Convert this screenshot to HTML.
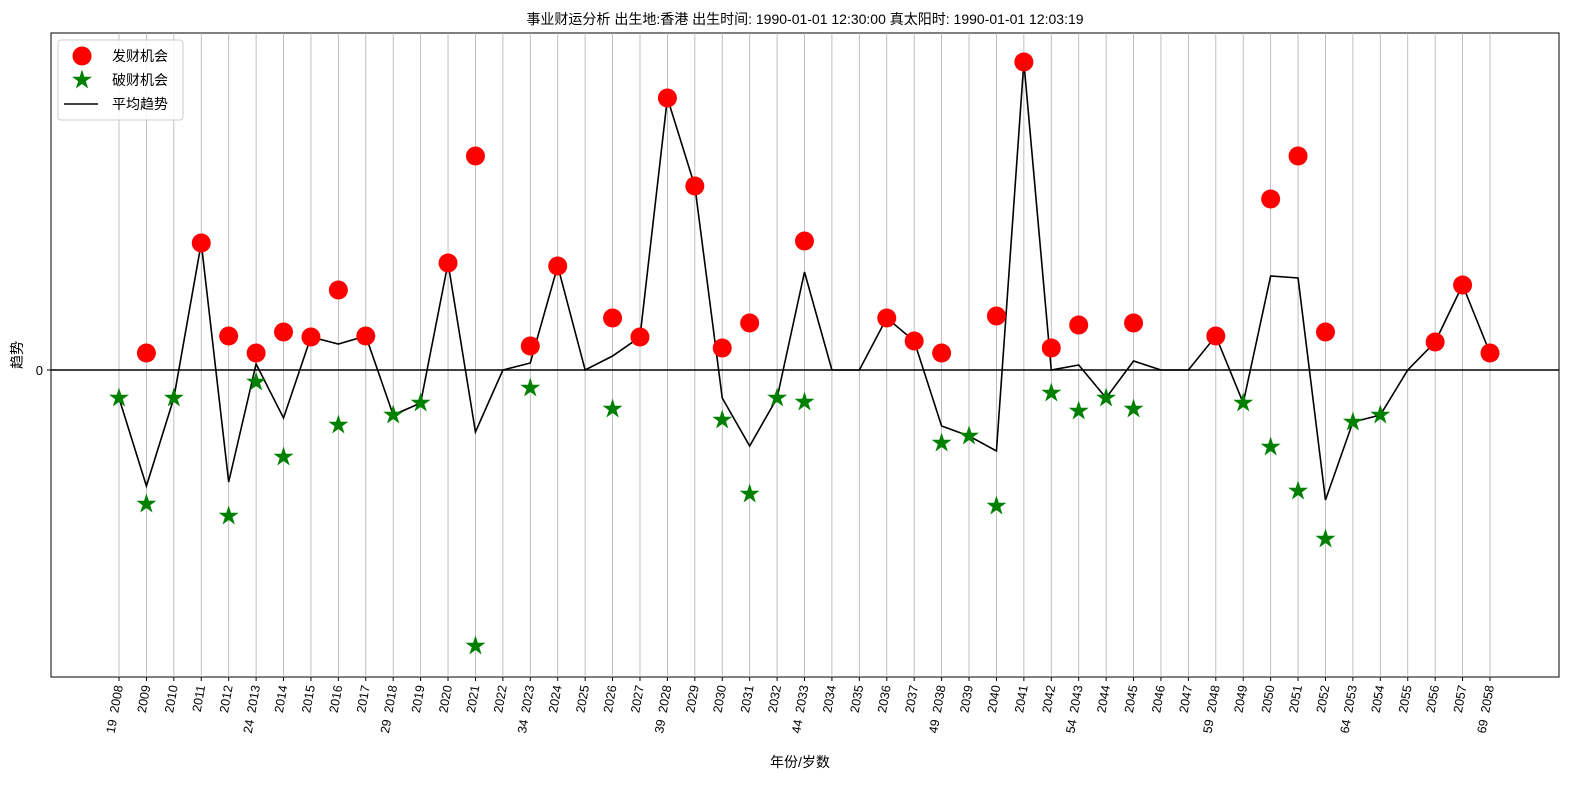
<!DOCTYPE html>
<html><head><meta charset="utf-8"><style>html,body{margin:0;padding:0;background:#fff;overflow:hidden;width:1589px;height:790px}svg{display:block}text{font-family:"Liberation Sans","Noto Sans CJK SC",sans-serif}</style></head>
<body>
<svg id="s" width="1589" height="790" xmlns="http://www.w3.org/2000/svg"></svg>
<script>
const s=document.getElementById('s');let h='';
const X=y=>119+(y-2008)*27.42;
h+='<rect x="51" y="33" width="1508" height="644" fill="#fff" stroke="#000" stroke-width="1"/>';
for(let y=2008;y<=2058;y++){const x=X(y);h+=`<line x1="${x}" y1="33" x2="${x}" y2="677" stroke="#b0b0b0" stroke-width="0.8"/><line x1="${x}" y1="677" x2="${x}" y2="681" stroke="#000"/>`;
let a=(y-2008)%5==0?(19+(y-2008))+' \u00a0'+y:''+y;
h+=`<text transform="translate(${x+4},686) rotate(-80)" text-anchor="end" font-size="12.5">${a}</text>`;}
h+='<line x1="51" y1="370" x2="1559" y2="370" stroke="#000" stroke-width="1.5"/><line x1="47" y1="370" x2="51" y2="370" stroke="#000"/><text x="43" y="375" text-anchor="end" font-size="13">0</text>';
const L=[398,486,398,243,482,364,418,337,344,336,415,403,263,432,370,363,266,370,356,337,98,186,398,446,398,272,370,370,318,341,426,436,451,62,370,365,398,361,370,370,336,403,276,278,500,422,415,370,342,285,353];
h+='<polyline fill="none" stroke="#000" stroke-width="1.6" points="'+L.map((v,i)=>X(2008+i)+','+v).join(' ')+'"/>';
const R=[[2009,353],[2011,243],[2012,336],[2013,353],[2014,332],[2015,337],[2016,290],[2017,336],[2020,263],[2021,156],[2023,346],[2024,266],[2026,318],[2027,337],[2028,98],[2029,186],[2030,348],[2031,323],[2033,241],[2036,318],[2037,341],[2038,353],[2040,316],[2041,62],[2042,348],[2043,325],[2045,323],[2048,336],[2050,199],[2051,156],[2052,332],[2056,342],[2057,285],[2058,353]];
R.forEach(([y,v])=>h+=`<circle cx="${X(y)}" cy="${v}" r="9.5" fill="#ff0000"/>`);
function star(cx,cy,r){let p=[];for(let i=0;i<10;i++){const rr=i%2?r*0.38:r,a=-Math.PI/2+i*Math.PI/5;p.push((cx+rr*Math.cos(a)).toFixed(1)+','+(cy+rr*Math.sin(a)).toFixed(1));}return `<polygon points="${p.join(' ')}" fill="#008000"/>`;}
const G=[[2008,398],[2009,504],[2010,398],[2012,516],[2013,382],[2014,457],[2016,425],[2018,415],[2019,403],[2021,646],[2023,388],[2026,409],[2030,420],[2031,494],[2032,398],[2033,402],[2038,443],[2039,436],[2040,506],[2042,393],[2043,411],[2044,398],[2045,409],[2049,403],[2050,447],[2051,491],[2052,539],[2053,422],[2054,415]];
G.forEach(([y,v])=>h+=star(X(y),v,10.5));
h+='<rect x="58" y="40" width="125" height="80" rx="3" fill="#fff" fill-opacity="0.85" stroke="#ccc"/>';
h+='<circle cx="82" cy="56" r="9.5" fill="#ff0000"/><text x="112" y="61" font-size="14">发财机会</text>';
h+=star(82,80,10.5)+'<text x="112" y="85" font-size="14">破财机会</text>';
h+='<line x1="64" y1="104" x2="98" y2="104" stroke="#000" stroke-width="1.6"/><text x="112" y="109" font-size="14">平均趋势</text>';
h+='<text x="805" y="24" text-anchor="middle" font-size="14">事业财运分析 出生地:香港  出生时间: 1990-01-01 12:30:00 真太阳时: 1990-01-01 12:03:19</text>';
h+='<text x="800" y="767" text-anchor="middle" font-size="14">年份/岁数</text>';
h+='<text transform="translate(22,355) rotate(-90)" text-anchor="middle" font-size="14">趋势</text>';
s.innerHTML=h;
</script>
</body></html>
